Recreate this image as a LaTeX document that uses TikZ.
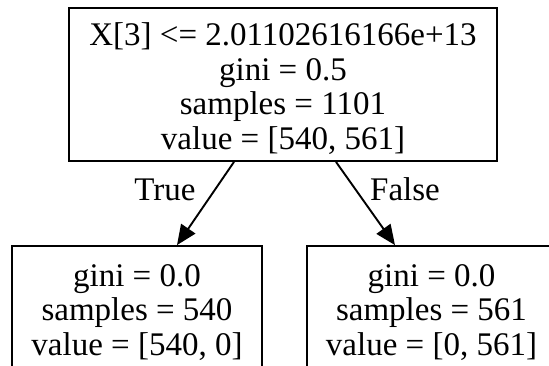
\documentclass[tikz,border=0pt]{standalone}
\usepackage{fontspec}
\setmainfont{Liberation Serif}
\usetikzlibrary{arrows.meta}
\begin{document}
\begin{tikzpicture}[x=1pt, y=-1pt,
  box/.style={draw=black, line width=1.8pt, rectangle, inner sep=0pt},
  txt/.style={align=center, font=\fontsize{33}{34.5}\selectfont, inner sep=0pt},
  edge/.style={line width=1.9pt, -{Triangle[length=20pt,width=17pt]}},
  elabel/.style={font=\fontsize{33}{34.5}\selectfont, inner sep=0pt, anchor=base}]
\useasboundingbox (0,0) rectangle (549,365);

% split node and the two leaves
\node[box, minimum width=428pt, minimum height=153pt] (root) at (283,84.5) {};
\node[box, minimum width=250pt, minimum height=134pt] (lchild) at (137,313) {};
\node[box, minimum width=249pt, minimum height=134pt] (rchild) at (431.5,313) {};

% node texts
\node[txt] (roottext) at (283,88.5) {X[3] <= 2.01102616166e+13\\gini = 0.5\\samples = 1101\\value = [540, 561]};
\node[txt] (ltext) at (137,312.5) {gini = 0.0\\samples = 540\\value = [540, 0]};
\node[txt] (rtext) at (431.5,312.5) {gini = 0.0\\samples = 561\\value = [0, 561]};

% branches
\draw[edge] ([xshift=-49pt]root.south) -- ([xshift=40pt]lchild.north);
\draw[edge] ([xshift=53pt]root.south) -- ([xshift=-36.5pt]rchild.north);

% branch labels
\node[elabel] (ltrue) at (165,200) {True};
\node[elabel] (rfalse) at (405,200) {False};
\end{tikzpicture}
\end{document}
